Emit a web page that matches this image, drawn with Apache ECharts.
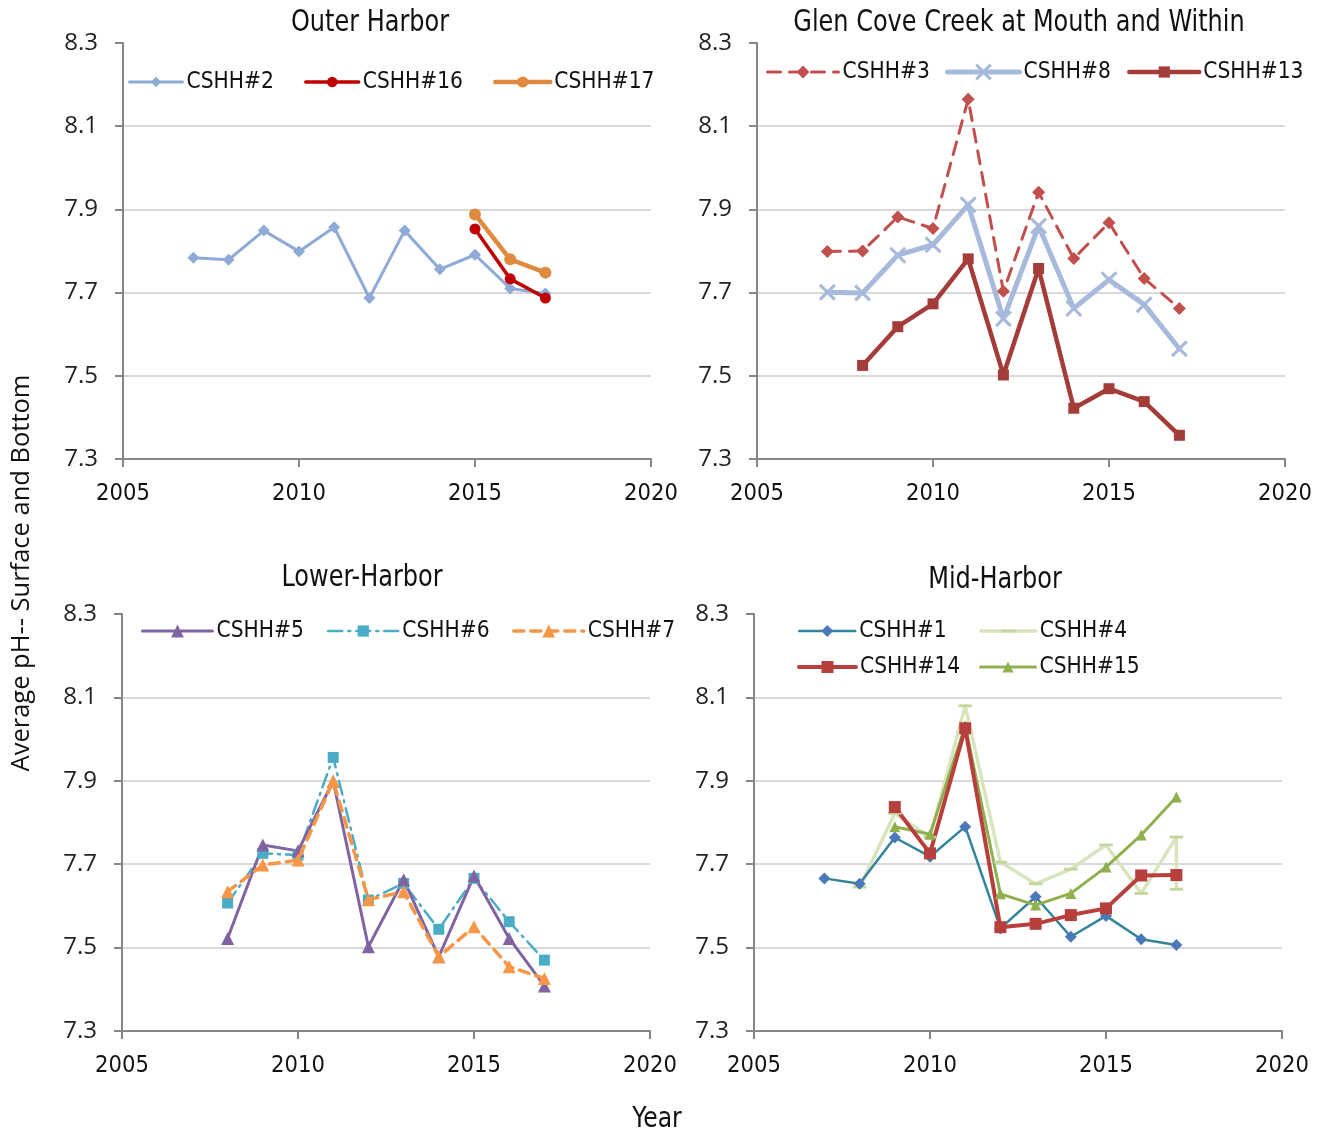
<!DOCTYPE html>
<html>
<head>
<meta charset="utf-8">
<script src="https://cdn.jsdelivr.net/npm/echarts@6/dist/echarts.min.js"></script>
<style>
  html, body { margin: 0; padding: 0; background: #ffffff; }
  #chart { width: 1328px; height: 1132px; }
</style>
</head>
<body>
<div id="chart"></div>
<script>
// Axis ranges shared by all four panels
const yearMin = 2005, yearMax = 2020, yearStep = 5;
const phMin = 7.3, phMax = 8.3, phStep = 0.2;

// Outer Harbor
const yearsCSHH2 = [2007, 2008, 2009, 2010, 2011, 2012, 2013, 2014, 2015, 2016, 2017];
const phCSHH2 = [7.784, 7.779, 7.849, 7.799, 7.857, 7.687, 7.849, 7.756, 7.791, 7.710, 7.698];
const yearsCSHH16 = [2015, 2016, 2017];
const phCSHH16 = [7.853, 7.733, 7.687];
const yearsCSHH17 = [2015, 2016, 2017];
const phCSHH17 = [7.888, 7.780, 7.748];

// Glen Cove Creek at Mouth and Within
const yearsCSHH3 = [2007, 2008, 2009, 2010, 2011, 2012, 2013, 2014, 2015, 2016, 2017];
const phCSHH3 = [7.799, 7.800, 7.882, 7.854, 8.165, 7.703, 7.941, 7.782, 7.868, 7.734, 7.662];
const yearsCSHH8 = [2007, 2008, 2009, 2010, 2011, 2012, 2013, 2014, 2015, 2016, 2017];
const phCSHH8 = [7.701, 7.699, 7.790, 7.815, 7.911, 7.637, 7.860, 7.662, 7.731, 7.671, 7.565];
const yearsCSHH13 = [2008, 2009, 2010, 2011, 2012, 2013, 2014, 2015, 2016, 2017];
const phCSHH13 = [7.525, 7.618, 7.673, 7.781, 7.502, 7.758, 7.422, 7.469, 7.438, 7.357];

// Lower-Harbor
const yearsCSHH5 = [2008, 2009, 2010, 2011, 2012, 2013, 2014, 2015, 2016, 2017];
const phCSHH5 = [7.522, 7.746, 7.732, 7.899, 7.502, 7.663, 7.478, 7.672, 7.522, 7.408];
const yearsCSHH6 = [2008, 2009, 2010, 2011, 2012, 2013, 2014, 2015, 2016, 2017];
const phCSHH6 = [7.607, 7.726, 7.722, 7.956, 7.614, 7.654, 7.544, 7.666, 7.562, 7.470];
const yearsCSHH7 = [2008, 2009, 2010, 2011, 2012, 2013, 2014, 2015, 2016, 2017];
const phCSHH7 = [7.634, 7.698, 7.710, 7.899, 7.615, 7.634, 7.478, 7.550, 7.454, 7.426];

// Mid-Harbor
const yearsCSHH1 = [2007, 2008, 2009, 2010, 2011, 2012, 2013, 2014, 2015, 2016, 2017];
const phCSHH1 = [7.666, 7.653, 7.764, 7.718, 7.790, 7.546, 7.622, 7.526, 7.576, 7.520, 7.506];
const yearsCSHH4 = [2008, 2009, 2010, 2011, 2012, 2013, 2014, 2015, 2016, 2017, 2017];
const phCSHH4 = [7.645, 7.822, 7.765, 8.080, 7.705, 7.653, 7.688, 7.746, 7.630, 7.765, 7.640];
const yearsCSHH14 = [2009, 2010, 2011, 2012, 2013, 2014, 2015, 2016, 2017];
const phCSHH14 = [7.837, 7.726, 8.026, 7.549, 7.557, 7.578, 7.594, 7.673, 7.674];
const yearsCSHH15 = [2009, 2010, 2011, 2012, 2013, 2014, 2015, 2016, 2017];
const phCSHH15 = [7.790, 7.772, 8.032, 7.629, 7.602, 7.630, 7.693, 7.770, 7.861];

const panelTitles = ['Outer Harbor', 'Glen Cove Creek at Mouth and Within', 'Lower-Harbor', 'Mid-Harbor'];
const yAxisTitle = 'Average pH-- Surface and Bottom';
const xAxisTitle = 'Year';

const NARROW = '"DejaVu Sans Condensed", "Roboto", sans-serif';
const PLAIN = '"Open Sans", "Noto Sans", sans-serif';
// Thin "x" cross marker
const CROSS = 'path://M0,1.3 L1.3,0 L5,3.7 L8.7,0 L10,1.3 L6.3,5 L10,8.7 L8.7,10 L5,6.3 L1.3,10 L0,8.7 L3.7,5 Z';
// Short horizontal bar marker inside a square box, so it keeps its shape when scaled
const DASH = 'path://M0,0 L0,0 M0,5 L12,5 L12,7.5 L0,7.5 Z M12,12.5 L12,12.5';

const pairs = (xs, ys) => xs.map((x, i) => [x, ys[i]]);

// Plot areas of the four panels
const grids = [
  { left: 123, top: 43, width: 528, height: 416 },
  { left: 757, top: 43, width: 528, height: 416 },
  { left: 122, top: 614, width: 528, height: 417 },
  { left: 754, top: 614, width: 528, height: 417 }
];

const axisGray = '#868686';

const xAxes = grids.map((g, i) => ({
  type: 'value', gridIndex: i, min: yearMin, max: yearMax, interval: yearStep,
  axisLine: { show: true, lineStyle: { color: axisGray, width: 2 } },
  axisTick: { show: true, length: 8, lineStyle: { color: axisGray, width: 2 } },
  axisLabel: { fontFamily: NARROW, fontSize: 23.5, color: '#111', margin: 23,
               formatter: v => String(v) },
  splitLine: { show: false }
}));

const yAxes = grids.map((g, i) => ({
  type: 'value', gridIndex: i, min: phMin, max: phMax, interval: phStep,
  axisLine: { show: true, onZero: false, lineStyle: { color: axisGray, width: 2 } },
  axisTick: { show: true, length: 8, lineStyle: { color: axisGray, width: 2 } },
  axisLabel: { fontFamily: PLAIN, fontSize: 24, color: '#222', margin: 25,
               formatter: v => v.toFixed(1) },
  splitLine: { show: true, showMaxLine: false, lineStyle: { color: '#d9d9d9', width: 2 } }
}));

function line(name, panel, xs, ys, o) {
  return {
    name, type: 'line', xAxisIndex: panel, yAxisIndex: panel,
    data: pairs(xs, ys),
    symbol: o.symbol, symbolSize: o.symbolSize, symbolKeepAspect: true,
    showAllSymbol: true,
    lineStyle: { color: o.color, width: o.width, type: o.dash || 'solid', cap: 'round', join: 'round' },
    itemStyle: { color: o.markerColor || o.color },
    emphasis: { disabled: true },
    z: o.z || 2
  };
}

const series = [
  line('CSHH#2', 0, yearsCSHH2, phCSHH2, { color: '#8eaad6', width: 3, symbol: 'diamond', symbolSize: 12 }),
  line('CSHH#17', 0, yearsCSHH17, phCSHH17, { color: '#df8a3e', width: 4.5, symbol: 'circle', symbolSize: 12 }),
  line('CSHH#16', 0, yearsCSHH16, phCSHH16, { color: '#c00000', width: 3.5, symbol: 'circle', symbolSize: 11, z: 3 }),

  line('CSHH#3', 1, yearsCSHH3, phCSHH3, { color: '#c0504d', width: 3, dash: [13, 9], symbol: 'diamond', symbolSize: 13 }),
  line('CSHH#8', 1, yearsCSHH8, phCSHH8, { color: '#a7badb', width: 5, symbol: CROSS, symbolSize: 17 }),
  line('CSHH#13', 1, yearsCSHH13, phCSHH13, { color: '#a43c3a', width: 4.5, symbol: 'rect', symbolSize: 11 }),

  line('CSHH#6', 2, yearsCSHH6, phCSHH6, { color: '#4bacc6', width: 2.5, dash: [14, 6, 2, 6], symbol: 'rect', symbolSize: 11 }),
  line('CSHH#5', 2, yearsCSHH5, phCSHH5, { color: '#8064a2', width: 3, symbol: 'triangle', symbolSize: 13 }),
  line('CSHH#7', 2, yearsCSHH7, phCSHH7, { color: '#f79646', width: 3.5, dash: [10, 7], symbol: 'triangle', symbolSize: 13, z: 3 }),

  line('CSHH#4', 3, yearsCSHH4, phCSHH4, { color: '#d7e4bd', markerColor: '#c3d69b', width: 3.5, symbol: DASH, symbolSize: 14 }),
  line('CSHH#1', 3, yearsCSHH1, phCSHH1, { color: '#31849b', markerColor: '#4a78b8', width: 2.5, symbol: 'diamond', symbolSize: 12 }),
  line('CSHH#15', 3, yearsCSHH15, phCSHH15, { color: '#8fb04c', width: 3, symbol: 'triangle', symbolSize: 11 }),
  line('CSHH#14', 3, yearsCSHH14, phCSHH14, { color: '#b8403c', width: 4, symbol: 'rect', symbolSize: 12 })
];

// One legend entry per item so each sits where it belongs in its panel
function legendItem(name, left, centerY, iconWidth, iconHeight) {
  return {
    data: [name], left, top: centerY - 15, padding: 0,
    itemWidth: iconWidth, itemHeight: iconHeight || 15, itemGap: 0,
    selectedMode: false,
    lineStyle: { width: 'inherit' },
    textStyle: { fontFamily: NARROW, fontSize: 22.5, color: '#111', lineHeight: 30, padding: [0, 0, 0, -1] }
  };
}

const legends = [
  legendItem('CSHH#2', 128, 82, 53, 13),
  legendItem('CSHH#16', 304, 82, 53, 13),
  legendItem('CSHH#17', 493, 82, 55, 14),
  legendItem('CSHH#3', 766, 72, 71, 16),
  legendItem('CSHH#8', 945, 72, 72, 21),
  legendItem('CSHH#13', 1127, 72, 70, 14),
  legendItem('CSHH#5', 141, 631, 70, 16),
  legendItem('CSHH#6', 327, 631, 70, 14),
  legendItem('CSHH#7', 512, 631, 70, 16),
  legendItem('CSHH#1', 798, 631, 56, 15),
  legendItem('CSHH#4', 979, 631, 55, 18),
  legendItem('CSHH#14', 797, 667, 57, 15),
  legendItem('CSHH#15', 979, 667, 55, 14)
];

const titleCenters = [[370, 23], [1019, 23], [362, 578], [995, 580]];

const graphics = panelTitles.map((t, i) => ({
  type: 'text', x: titleCenters[i][0], y: titleCenters[i][1], scaleX: 0.86,
  style: { text: t, font: '31px ' + NARROW, fill: '#111', textAlign: 'center', textVerticalAlign: 'middle' }
}));
graphics.push({
  type: 'text', x: 22, y: 573, rotation: Math.PI / 2,
  style: { text: yAxisTitle, font: '25.5px ' + PLAIN, fill: '#111', textAlign: 'center', textVerticalAlign: 'middle' }
});
graphics.push({
  type: 'text', x: 657, y: 1119, scaleX: 0.9,
  style: { text: xAxisTitle, font: '29px ' + NARROW, fill: '#111', textAlign: 'center', textVerticalAlign: 'middle' }
});

const chart = echarts.init(document.getElementById('chart'), null, { renderer: 'canvas' });
chart.setOption({
  animation: false,
  backgroundColor: '#ffffff',
  grid: grids,
  xAxis: xAxes,
  yAxis: yAxes,
  legend: legends,
  series,
  graphic: graphics
});
</script>
</body>
</html>
